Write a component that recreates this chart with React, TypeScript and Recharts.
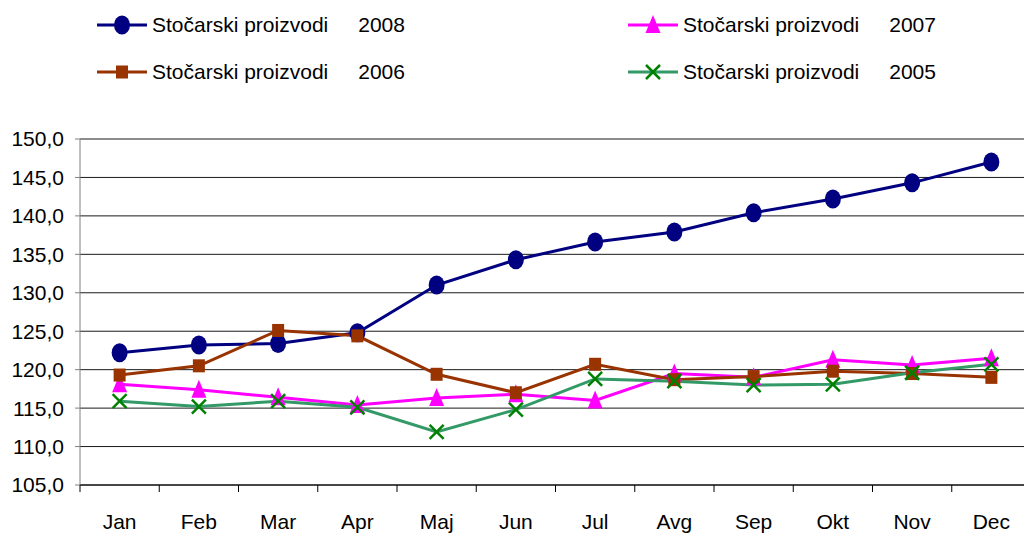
import React from 'react';
import { ComposedChart, XAxis, YAxis, CartesianGrid, Line } from 'recharts';

const months = ['Jan', 'Feb', 'Mar', 'Apr', 'Maj', 'Jun', 'Jul', 'Avg', 'Sep', 'Okt', 'Nov', 'Dec'];
const s2008 = [122.2, 123.2, 123.4, 124.8, 131.0, 134.3, 136.6, 137.9, 140.4, 142.2, 144.3, 147.0];
const s2007 = [118.1, 117.4, 116.4, 115.4, 116.3, 116.8, 116.0, 119.5, 119.0, 121.3, 120.6, 121.5];
const s2006 = [119.3, 120.5, 125.1, 124.4, 119.4, 117.0, 120.7, 118.7, 119.1, 119.8, 119.5, 119.0];
const s2005 = [115.9, 115.2, 115.9, 115.1, 111.9, 114.8, 118.8, 118.5, 118.0, 118.1, 119.6, 120.7];
const yTicks = [105, 110, 115, 120, 125, 130, 135, 140, 145, 150];
const seriesLabel = 'Stočarski proizvodi';

const data = months.map((m, i) => ({
  month: m,
  y2008: s2008[i],
  y2007: s2007[i],
  y2006: s2006[i],
  y2005: s2005[i],
}));

const FONT = '"Liberation Sans", Arial, sans-serif';

const circleDot = (p: any) => (
  <ellipse key={p.key} cx={p.cx} cy={p.cy} rx={8} ry={9.5} fill="#000080" />
);
const squareDot = (p: any) => (
  <rect key={p.key} x={p.cx - 6} y={p.cy - 6.5} width={12} height={13} fill="#993300" />
);
const triangleDot = (p: any) => (
  <polygon
    key={p.key}
    points={`${p.cx},${p.cy - 10} ${p.cx - 7.5},${p.cy + 8} ${p.cx + 7.5},${p.cy + 8}`}
    fill="#FF00FF"
  />
);
const crossDot = (p: any) => (
  <g key={p.key} stroke="#008000" strokeWidth={2.5}>
    <line x1={p.cx - 7} y1={p.cy - 7} x2={p.cx + 7} y2={p.cy + 7} />
    <line x1={p.cx - 7} y1={p.cy + 7} x2={p.cx + 7} y2={p.cy - 7} />
  </g>
);

// draw order: 2008, 2007, 2006, 2005 (last on top)
const series = [
  { key: 'y2008', year: '2008', color: '#000080', dot: circleDot },
  { key: 'y2007', year: '2007', color: '#FF00FF', dot: triangleDot },
  { key: 'y2006', year: '2006', color: '#993300', dot: squareDot },
  { key: 'y2005', year: '2005', color: '#339966', dot: crossDot },
];

const legendOrder = ['y2008', 'y2007', 'y2006', 'y2005'];

const TICK_LEN = 7;
const LABEL_GAP = 29;

// month label plus a tick mark on the left edge of each category band
// (and the right edge for the last one)
const MonthTick = (props: any) => {
  const { x, y, payload, index, visibleTicksCount } = props;
  const half = payload.offset || 0;
  const axisY = y - LABEL_GAP;
  const last = index === visibleTicksCount - 1;
  return (
    <g>
      <line x1={x - half} y1={axisY} x2={x - half} y2={axisY + TICK_LEN} stroke="#000" />
      {last && (
        <line x1={x + half} y1={axisY} x2={x + half} y2={axisY + TICK_LEN} stroke="#000" />
      )}
      <text
        x={x}
        y={y}
        dy="0.71em"
        textAnchor="middle"
        fontSize={21}
        fontFamily={FONT}
        fill="#000"
      >
        {payload.value}
      </text>
    </g>
  );
};

const ChartLegend = () => (
  <div
    style={{
      position: 'absolute',
      left: 97,
      top: 13,
      display: 'grid',
      gridTemplateColumns: '531px auto',
      rowGap: 23,
      fontFamily: FONT,
      fontSize: 21,
      color: '#000',
    }}
  >
    {legendOrder.map((k) => {
      const s = series.find((x) => x.key === k)!;
      return (
        <div key={k} style={{ display: 'flex', alignItems: 'center', height: 24 }}>
          <svg width={50} height={24}>
            <line x1={0} y1={12} x2={50} y2={12} stroke={s.color} strokeWidth={3} />
            {s.dot({ cx: 25, cy: 12, key: 'm' })}
          </svg>
          <span style={{ marginLeft: 5, whiteSpace: 'nowrap' }}>{seriesLabel}</span>
          <span style={{ marginLeft: 30 }}>{s.year}</span>
        </div>
      );
    })}
  </div>
);

export default function App() {
  return (
    <div style={{ position: 'relative', width: 1040, height: 535 }}>
      <style>{'body{margin:0;overflow:hidden}'}</style>
      <ChartLegend />
      <ComposedChart
        width={1040}
        height={535}
        data={data}
        margin={{ top: 139, right: 9, left: 0, bottom: 0 }}
      >
        <CartesianGrid vertical={false} stroke="#1a1a1a" strokeWidth={1} />
        <XAxis
          dataKey="month"
          scale="band"
          height={50}
          axisLine={{ stroke: '#000' }}
          tickLine={false}
          tickSize={0}
          tickMargin={LABEL_GAP}
          interval={0}
          tick={<MonthTick />}
        />
        <YAxis
          domain={[105, 150]}
          ticks={yTicks}
          width={80}
          allowDataOverflow
          tickFormatter={(v: number) => v.toFixed(1).replace('.', ',')}
          axisLine={{ stroke: '#808080' }}
          tickLine={{ stroke: '#808080' }}
          tickSize={5}
          tickMargin={11}
          tick={{ fontSize: 21, fontFamily: FONT, fill: '#000' }}
        />
        {series.map((s) => (
          <Line
            key={s.key}
            type="linear"
            dataKey={s.key}
            stroke={s.color}
            strokeWidth={3}
            dot={s.dot}
            activeDot={false}
            isAnimationActive={false}
          />
        ))}
      </ComposedChart>
    </div>
  );
}
